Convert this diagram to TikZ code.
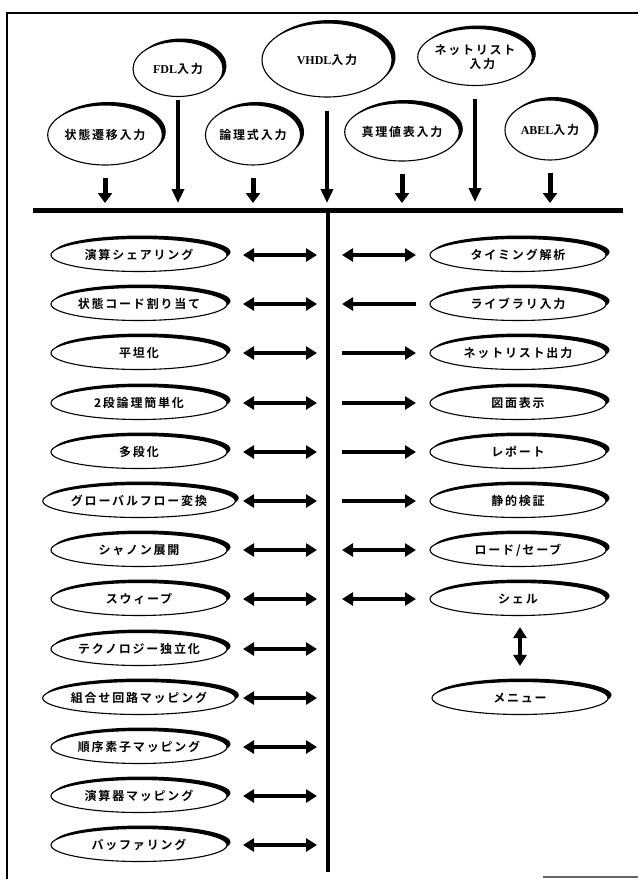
\documentclass[tikz,border=0pt]{standalone}
\usepackage{fontspec}
\setmainfont{Liberation Serif}
\newfontfamily\jp{Noto Sans CJK JP Bold}[LetterSpace=15]
\usetikzlibrary{shapes, arrows.meta, shadows}

\newcommand{\lat}[1]{{\rmfamily\bfseries #1}}

\begin{document}
\begin{tikzpicture}[x=1pt, y=-1pt,
    mod/.style={ellipse, draw, line width=1.1pt, fill=white, inner sep=0pt,
      minimum width=176pt, minimum height=33pt,
      font=\jp\fontsize{12pt}{14pt}\selectfont,
      general shadow={fill=black, shadow xshift=3.5pt, shadow yshift=3pt}},
    inp/.style={mod, minimum width=90pt, minimum height=58pt, align=center},
    frame/.style={line width=1.2pt},
    busline/.style={line width=5pt},
    spine/.style={line width=3.5pt},
    harrow/.style={line width=4pt, >={Triangle[length=11pt, width=13pt]}},
    shortarrow/.style={line width=5pt, ->, >={Triangle[length=10pt, width=14pt]}},
    longarrow/.style={line width=4pt, ->, >={Triangle[length=14pt, width=12pt]}}]
  \useasboundingbox (0,0) rectangle (638,879);

  % frame
  \draw[frame] (7,879) |- (638,13);
  \draw[frame, black!60] (543,877) -- (638,877);

  % input formats
  \node[inp, minimum height=55pt] (fdl) at (178,69) {\lat{FDL}入力};
  \node[inp, minimum width=130pt, minimum height=74pt] (vhdl) at (327,60) {\lat{VHDL}入力};
  \node[inp, minimum height=57pt] (net) at (475,57) {ネットリスト\\\hspace*{1.2em}入力};
  \node[inp, minimum height=60pt] (stt) at (105,135) {状態遷移入力};
  \node[inp, minimum width=87pt, minimum height=60pt] (logic) at (253,135) {論理式入力};
  \node[inp, minimum width=89pt] (truth) at (402,132) {真理値表入力};
  \node[inp, minimum height=60pt] (abel) at (550,130) {\lat{ABEL}入力};

  % bus and spine
  \coordinate (busL) at (33,210);
  \coordinate (busR) at (623,210);
  \coordinate (spT) at (328,210);
  \coordinate (spB) at (328,872);
  \coordinate (lcol) at (228,210);
  \coordinate (rcol) at (430,210);
  \draw[busline] (busL) -- (busR);
  \draw[spine] (spT) -- (spB);

  \draw[longarrow, shorten <=3pt, shorten >=7pt] (fdl.south) -- (fdl.south |- busL);
  \draw[longarrow, shorten <=13pt, shorten >=7pt] (vhdl.south) -- (vhdl.south |- busL);
  \draw[longarrow, shorten <=13pt, shorten >=8pt] (net.south) -- (net.south |- busL);
  \foreach \n in {stt, logic, truth, abel}
    \draw[shortarrow, shorten <=12pt, shorten >=7pt] (\n.south) -- (\n.south |- busL);

  % synthesis steps
  \node[mod] (l1) at (139,255) {演算シェアリング};
  \node[mod] (l2) at (139,304) {状態コード割り当て};
  \node[mod] (l3) at (139,353) {平坦化};
  \node[mod] (l4) at (139,403) {2段論理簡単化};
  \node[mod] (l5) at (139,452) {多段化};
  \node[mod] (l6) at (139,501) {グローバルフロー変換};
  \node[mod] (l7) at (139,550) {シャノン展開};
  \node[mod] (l8) at (139,599) {スウィープ};
  \node[mod] (l9) at (139,649) {テクノロジー独立化};
  \node[mod] (l10) at (139,698) {組合せ回路マッピング};
  \node[mod] (l11) at (139,747) {順序素子マッピング};
  \node[mod] (l12) at (139,796) {演算器マッピング};
  \node[mod] (l13) at (139,845) {バッファリング};

  \foreach \i in {1,...,13}
    \draw[harrow, <->, shorten <=15pt, shorten >=11pt] (l\i -| lcol) -- (l\i -| spT);

  % tools
  \node[mod] (r1) at (518,255) {タイミング解析};
  \node[mod] (r2) at (518,304) {ライブラリ入力};
  \node[mod] (r3) at (518,353) {ネットリスト出力};
  \node[mod] (r4) at (518,403) {図面表示};
  \node[mod] (r5) at (518,452) {レポート};
  \node[mod] (r6) at (518,501) {静的検証};
  \node[mod] (r7) at (518,550) {ロード/セーブ};
  \node[mod] (r8) at (518,599) {シェル};
  \node[mod] (menu) at (520,698) {メニュー};

  \draw[harrow, <->, shorten <=14pt, shorten >=14pt] (r1 -| spT) -- (r1 -| rcol);
  \draw[harrow, <-, shorten <=14pt, shorten >=14pt] (r2 -| spT) -- (r2 -| rcol);
  \draw[harrow, ->, shorten <=14pt, shorten >=14pt] (r3 -| spT) -- (r3 -| rcol);
  \draw[harrow, ->, shorten <=14pt, shorten >=14pt] (r4 -| spT) -- (r4 -| rcol);
  \draw[harrow, ->, shorten <=14pt, shorten >=14pt] (r5 -| spT) -- (r5 -| rcol);
  \draw[harrow, ->, shorten <=14pt, shorten >=14pt] (r6 -| spT) -- (r6 -| rcol);
  \draw[harrow, <->, shorten <=14pt, shorten >=14pt] (r7 -| spT) -- (r7 -| rcol);
  \draw[harrow, <->, shorten <=14pt, shorten >=14pt] (r8 -| spT) -- (r8 -| rcol);
  \draw[harrow, <->, shorten <=11pt, shorten >=15pt] (r8.south -| menu) -- (menu.north);
\end{tikzpicture}
\end{document}
